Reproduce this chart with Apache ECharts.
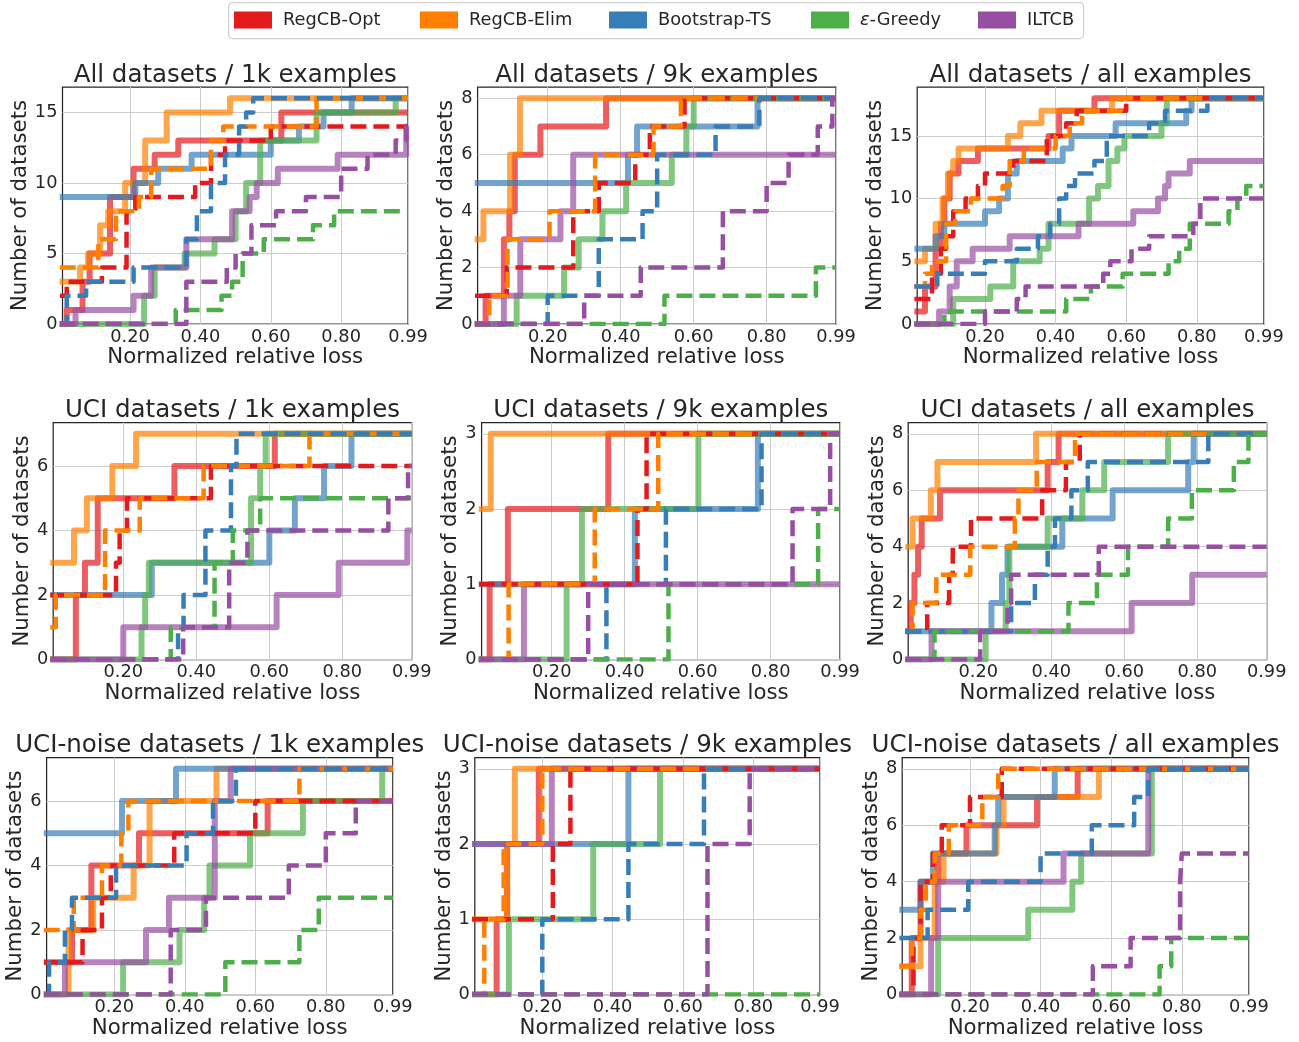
<!DOCTYPE html>
<html><head><meta charset="utf-8">
<script src="https://cdn.jsdelivr.net/npm/echarts@6/dist/echarts.min.js"></script>
<style>html,body{margin:0;padding:0;background:#fff}#c{width:1299px;height:1042px}</style>
</head><body><div id="c"></div>
<script>
const methods = ['RegCB-Opt', 'RegCB-Elim', 'Bootstrap-TS', 'ε-Greedy', 'ILTCB'];
const colors = ['#e41a1c', '#ff7f00', '#377eb8', '#4daf4a', '#984ea3'];
const panelTitles = [
  'All datasets / 1k examples', 'All datasets / 9k examples', 'All datasets / all examples',
  'UCI datasets / 1k examples', 'UCI datasets / 9k examples', 'UCI datasets / all examples',
  'UCI-noise datasets / 1k examples', 'UCI-noise datasets / 9k examples', 'UCI-noise datasets / all examples'
];
const xTickValues = [0.2, 0.4, 0.6, 0.8, 0.99];
const yTickValues = [[0,5,10,15],[0,2,4,6,8],[0,5,10,15],[0,2,4,6],[0,1,2,3],[0,2,4,6,8],[0,2,4,6],[0,1,2,3],[0,2,4,6,8]];
const yMaxValues = [16.8, 8.4, 18.9, 7.35, 3.15, 8.4, 7.35, 3.15, 8.4];
const xAxisTitle = 'Normalized relative loss';
const yAxisTitle = 'Number of datasets';

// Each array: [x where the count changes, new count]; solid = first, Dash = dashed variant
// All datasets / 1k
const all1kOpt = [[0,0],[0.02,1],[0.065,3],[0.085,5],[0.143,9],[0.21,11],[0.27,12],[0.337,13],[0.63,15]];
const all1kOptDash = [[0,2],[0.02,3],[0.12,4],[0.19,8],[0.215,9],[0.385,10],[0.43,12],[0.47,13],[0.6,14]];
const all1kElim = [[0,3],[0.058,4],[0.081,5],[0.115,7],[0.138,8],[0.186,10],[0.243,13],[0.304,15],[0.484,16]];
const all1kElimDash = [[0,4],[0.11,6],[0.16,8],[0.225,9],[0.26,11],[0.43,13],[0.465,14],[0.73,16]];
const all1kBoot = [[0,9],[0.215,10],[0.28,11],[0.375,12],[0.6,13],[0.68,14],[0.75,15],[0.83,16]];
const all1kBootDash = [[0,0],[0.02,2],[0.075,3],[0.21,4],[0.36,6],[0.39,8],[0.43,10],[0.47,12],[0.51,14],[0.53,15],[0.55,16]];
const all1kGreedy = [[0,0],[0.24,2],[0.27,4],[0.355,5],[0.44,6],[0.5,8],[0.53,10],[0.57,13],[0.73,15],[0.955,16]];
const all1kGreedyDash = [[0,0],[0.33,1],[0.46,2],[0.49,3],[0.52,5],[0.58,6],[0.72,7],[0.78,8]];
const all1kIltcb = [[0,0],[0.045,1],[0.21,2],[0.26,4],[0.36,6],[0.49,8],[0.54,9],[0.56,10],[0.62,11],[0.79,12],[0.985,14]];
const all1kIltcbDash = [[0,0],[0.36,3],[0.475,4],[0.5,5],[0.545,7],[0.615,8],[0.7,9],[0.8,11],[0.875,12],[0.955,13],[0.985,14]];
// All datasets / 9k
const all9kOpt = [[0,0],[0.03,1],[0.08,3],[0.095,4],[0.11,6],[0.18,7],[0.36,8]];
const all9kOptDash = [[0,1],[0.088,2],[0.27,4],[0.34,5],[0.44,6],[0.48,7],[0.575,8]];
const all9kElim = [[0,3],[0.024,4],[0.097,6],[0.124,8]];
const all9kElimDash = [[0,0],[0.04,1],[0.09,3],[0.205,4],[0.33,6],[0.49,7],[0.565,8]];
const all9kBoot = [[0,5],[0.42,6],[0.445,7],[0.775,8]];
const all9kBootDash = [[0,0],[0.2,1],[0.34,3],[0.46,4],[0.5,6],[0.66,7],[0.78,8]];
const all9kGreedy = [[0,0],[0.115,1],[0.245,2],[0.285,3],[0.35,4],[0.415,5],[0.54,6],[0.58,7],[0.6,8]];
const all9kGreedyDash = [[0,0],[0.52,1],[0.935,2]];
const all9kIltcb = [[0,0],[0.08,1],[0.125,3],[0.235,4],[0.27,6]];
const all9kIltcbDash = [[0,0],[0.3,1],[0.455,2],[0.68,4],[0.8,5],[0.86,6],[0.94,7],[0.98,8]];
// All datasets / all
const allAllOpt = [[0,1],[0.03,3],[0.06,6],[0.075,8],[0.085,10],[0.1,12],[0.125,13],[0.18,14],[0.38,15],[0.41,17],[0.51,18]];
const allAllOptDash = [[0,2],[0.05,4],[0.075,6],[0.09,7],[0.11,9],[0.145,10],[0.18,11],[0.2,12],[0.28,13],[0.375,15],[0.43,16],[0.46,17],[0.6,18]];
const allAllElim = [[0,5],[0.03,6],[0.06,8],[0.08,10],[0.095,12],[0.11,13],[0.125,14],[0.265,15],[0.3,16],[0.36,17],[0.56,18]];
const allAllElimDash = [[0,3],[0.03,4],[0.05,5],[0.09,8],[0.115,9],[0.16,10],[0.25,11],[0.27,13],[0.31,14],[0.4,15],[0.44,16],[0.475,17],[0.585,18]];
const allAllBoot = [[0,6],[0.06,7],[0.085,8],[0.2,9],[0.24,10],[0.265,12],[0.29,13],[0.42,14],[0.445,15],[0.57,16],[0.77,17],[0.785,18]];
const allAllBootDash = [[0,3],[0.065,4],[0.2,5],[0.29,6],[0.35,7],[0.385,8],[0.41,10],[0.43,11],[0.455,12],[0.51,13],[0.545,15],[0.665,16],[0.71,17],[0.83,18]];
const allAllGreedy = [[0,0],[0.11,2],[0.215,3],[0.28,5],[0.355,6],[0.38,8],[0.495,10],[0.52,11],[0.55,13],[0.575,14],[0.595,15],[0.7,16],[0.715,18]];
const allAllGreedyDash = [[0,0],[0.085,1],[0.43,2],[0.5,3],[0.59,4],[0.72,5],[0.75,6],[0.78,8],[0.89,9],[0.915,10],[0.94,11]];
const allAllIltcb = [[0,0],[0.07,1],[0.1,3],[0.12,5],[0.165,6],[0.27,7],[0.465,8],[0.62,9],[0.69,10],[0.71,11],[0.72,12],[0.78,13]];
const allAllIltcbDash = [[0,0],[0.2,1],[0.29,2],[0.315,3],[0.535,4],[0.555,5],[0.615,6],[0.665,7],[0.79,8],[0.81,10]];
// UCI / 1k
const uci1kOpt = [[0,0],[0.07,2],[0.095,3],[0.13,5],[0.34,6],[0.615,7]];
const uci1kOptDash = [[0,2],[0.18,3],[0.19,4],[0.21,5],[0.44,6]];
const uci1kElim = [[0,3],[0.065,4],[0.1,5],[0.17,6],[0.235,7]];
const uci1kElimDash = [[0,1],[0.015,2],[0.15,4],[0.245,5],[0.42,6],[0.71,7]];
const uci1kBoot = [[0,2],[0.278,3],[0.6,4],[0.67,5],[0.75,6],[0.825,7]];
const uci1kBootDash = [[0,0],[0.35,1],[0.365,2],[0.425,4],[0.495,6],[0.51,7]];
const uci1kGreedy = [[0,0],[0.25,1],[0.26,2],[0.27,3],[0.55,5],[0.575,6],[0.59,7]];
const uci1kGreedyDash = [[0,0],[0.33,1],[0.45,3],[0.5,4],[0.575,5]];
const uci1kIltcb = [[0,0],[0.2,1],[0.62,2],[0.79,3],[0.978,4]];
const uci1kIltcbDash = [[0,0],[0.364,1],[0.49,3],[0.54,4],[0.926,5],[0.98,6]];
// UCI / 9k
const uci9kOpt = [[0,0],[0.03,1],[0.08,2],[0.355,3]];
const uci9kOptDash = [[0,1],[0.435,2],[0.46,3]];
const uci9kElim = [[0,2],[0.033,3]];
const uci9kElimDash = [[0,0],[0.082,1],[0.318,2],[0.492,3]];
const uci9kBoot = [[0,1],[0.428,2],[0.765,3]];
const uci9kBootDash = [[0,0],[0.35,1],[0.513,2],[0.775,3]];
const uci9kGreedy = [[0,0],[0.241,1],[0.283,2],[0.602,3]];
const uci9kGreedyDash = [[0,0],[0.52,1],[0.93,2]];
const uci9kIltcb = [[0,0],[0.124,1]];
const uci9kIltcbDash = [[0,0],[0.3,1],[0.86,2],[0.963,3]];
// UCI / all
const uciAllOpt = [[0,1],[0.015,2],[0.025,3],[0.035,4],[0.045,5],[0.095,6],[0.39,7],[0.42,8]];
const uciAllOptDash = [[0,1],[0.06,2],[0.12,3],[0.13,4],[0.18,5],[0.375,6],[0.44,7],[0.478,8]];
const uciAllElim = [[0,4],[0.02,5],[0.07,6],[0.088,7],[0.358,8]];
const uciAllElimDash = [[0,1],[0.02,2],[0.085,3],[0.178,4],[0.3,5],[0.31,6],[0.36,7],[0.465,8]];
const uciAllBoot = [[0,1],[0.236,2],[0.265,3],[0.28,4],[0.43,5],[0.568,6],[0.775,7],[0.79,8]];
const uciAllBootDash = [[0,1],[0.29,2],[0.355,3],[0.39,4],[0.41,5],[0.455,6],[0.5,7],[0.83,8]];
const uciAllGreedy = [[0,0],[0.22,1],[0.275,2],[0.285,4],[0.39,5],[0.485,6],[0.545,7],[0.72,8]];
const uciAllGreedyDash = [[0,0],[0.08,1],[0.447,2],[0.525,3],[0.61,4],[0.72,5],[0.785,6],[0.9,7],[0.94,8]];
const uciAllIltcb = [[0,0],[0.072,1],[0.62,2],[0.786,3]];
const uciAllIltcbDash = [[0,0],[0.205,1],[0.28,2],[0.29,3],[0.53,4]];
// UCI-noise / 1k
const noise1kOpt = [[0,1],[0.08,2],[0.135,4],[0.27,5],[0.635,6]];
const noise1kOptDash = [[0,1],[0.11,2],[0.165,3],[0.19,4],[0.37,5],[0.6,6]];
const noise1kElim = [[0,0],[0.07,2],[0.14,3],[0.255,4],[0.3,6],[0.49,7]];
const noise1kElimDash = [[0,2],[0.085,3],[0.165,4],[0.22,5],[0.24,6],[0.725,7]];
const noise1kBoot = [[0,5],[0.222,6],[0.375,7]];
const noise1kBootDash = [[0,0],[0.015,1],[0.06,2],[0.08,3],[0.205,4],[0.405,5],[0.48,6],[0.545,7]];
const noise1kGreedy = [[0,0],[0.225,1],[0.385,2],[0.455,3],[0.47,4],[0.585,5],[0.735,6],[0.96,7]];
const noise1kGreedyDash = [[0,0],[0.515,1],[0.725,2],[0.78,3]];
const noise1kIltcb = [[0,0],[0.06,1],[0.29,2],[0.355,3],[0.485,6],[0.53,7]];
const noise1kIltcbDash = [[0,0],[0.36,2],[0.46,3],[0.695,4],[0.8,5],[0.885,6]];
// UCI-noise / 9k
const noise9kOpt = [[0,0],[0.07,1],[0.1,2],[0.19,3]];
const noise9kOptDash = [[0,1],[0.23,2],[0.28,3]];
const noise9kElim = [[0,1],[0.1,2],[0.122,3]];
const noise9kElimDash = [[0,0],[0.035,1],[0.09,2],[0.2,3]];
const noise9kBoot = [[0,2],[0.445,3]];
const noise9kBootDash = [[0,0],[0.2,1],[0.445,2],[0.66,3]];
const noise9kGreedy = [[0,0],[0.105,1],[0.345,2],[0.535,3]];
const noise9kGreedyDash = [[0,0]];
const noise9kIltcb = [[0,2],[0.227,3]];
const noise9kIltcbDash = [[0,0],[0.67,2],[0.79,3]];
// UCI-noise / all
const noiseAllOpt = [[0,0],[0.035,2],[0.06,4],[0.11,5],[0.19,6],[0.39,7],[0.505,8]];
const noiseAllOptDash = [[0,0],[0.04,2],[0.06,4],[0.095,5],[0.12,6],[0.2,7],[0.29,8]];
const noiseAllElim = [[0,1],[0.06,2],[0.1,4],[0.125,5],[0.275,6],[0.295,7],[0.565,8]];
const noiseAllElimDash = [[0,1],[0.035,2],[0.06,3],[0.075,4],[0.1,5],[0.14,6],[0.235,7],[0.28,8]];
const noiseAllBoot = [[0,3],[0.06,4],[0.095,5],[0.27,6],[0.28,7],[0.44,8]];
const noiseAllBootDash = [[0,2],[0.08,3],[0.195,4],[0.4,5],[0.545,6],[0.665,7],[0.705,8]];
const noiseAllGreedy = [[0,0],[0.11,2],[0.365,3],[0.49,4],[0.515,5],[0.715,8]];
const noiseAllGreedyDash = [[0,0],[0.737,1],[0.77,2]];
const noiseAllIltcb = [[0,0],[0.09,2],[0.11,4],[0.465,5],[0.705,8]];
const noiseAllIltcbDash = [[0,0],[0.548,1],[0.655,2],[0.795,4],[0.8,5]];

const panelSolid = [
  [all1kOpt, all1kElim, all1kBoot, all1kGreedy, all1kIltcb],
  [all9kOpt, all9kElim, all9kBoot, all9kGreedy, all9kIltcb],
  [allAllOpt, allAllElim, allAllBoot, allAllGreedy, allAllIltcb],
  [uci1kOpt, uci1kElim, uci1kBoot, uci1kGreedy, uci1kIltcb],
  [uci9kOpt, uci9kElim, uci9kBoot, uci9kGreedy, uci9kIltcb],
  [uciAllOpt, uciAllElim, uciAllBoot, uciAllGreedy, uciAllIltcb],
  [noise1kOpt, noise1kElim, noise1kBoot, noise1kGreedy, noise1kIltcb],
  [noise9kOpt, noise9kElim, noise9kBoot, noise9kGreedy, noise9kIltcb],
  [noiseAllOpt, noiseAllElim, noiseAllBoot, noiseAllGreedy, noiseAllIltcb]
];
const panelDashed = [
  [all1kOptDash, all1kElimDash, all1kBootDash, all1kGreedyDash, all1kIltcbDash],
  [all9kOptDash, all9kElimDash, all9kBootDash, all9kGreedyDash, all9kIltcbDash],
  [allAllOptDash, allAllElimDash, allAllBootDash, allAllGreedyDash, allAllIltcbDash],
  [uci1kOptDash, uci1kElimDash, uci1kBootDash, uci1kGreedyDash, uci1kIltcbDash],
  [uci9kOptDash, uci9kElimDash, uci9kBootDash, uci9kGreedyDash, uci9kIltcbDash],
  [uciAllOptDash, uciAllElimDash, uciAllBootDash, uciAllGreedyDash, uciAllIltcbDash],
  [noise1kOptDash, noise1kElimDash, noise1kBootDash, noise1kGreedyDash, noise1kIltcbDash],
  [noise9kOptDash, noise9kElimDash, noise9kBootDash, noise9kGreedyDash, noise9kIltcbDash],
  [noiseAllOptDash, noiseAllElimDash, noiseAllBootDash, noiseAllGreedyDash, noiseAllIltcbDash]
];

// ---- layout ----
const X_MIN = 0.008, X_MAX = 0.99;
const FONT = '"DejaVu Sans", sans-serif';
const TXT = '#262626';
const gridBoxes = [
  [62.5, 87, 345.5, 237], [477.6, 87, 358.4, 237], [917.2, 87, 346.7, 237],
  [53.2, 422.5, 358.5, 237], [481.6, 422.5, 358.4, 237], [908.2, 422.5, 358.5, 237],
  [46.6, 757.5, 346.2, 237], [474.8, 757.5, 345.2, 237], [902.2, 757.5, 346.7, 237]
];
const yNameGaps = [30, 20, 30, 20, 20, 20, 20, 20, 20];
const legendLefts = [234, 420, 609, 811, 978];

const grids = [], xAxes = [], yAxes = [], titles = [], series = [];
gridBoxes.forEach((b, i) => {
  grids.push({left: b[0], top: b[1], width: b[2], height: b[3], show: true,
    borderColor: '#262626', borderWidth: 1.25, backgroundColor: 'transparent',
    containLabel: false, outerBoundsMode: 'none'});
  titles.push({text: panelTitles[i], left: b[0] + b[2] / 2, top: b[1] - 24, textAlign: 'center',
    textStyle: {fontFamily: FONT, fontSize: 24.5, fontWeight: 'normal', color: TXT}, padding: 0});
  xAxes.push({type: 'value', gridIndex: i, min: X_MIN, max: X_MAX,
    axisLine: {show: false}, axisTick: {show: false, customValues: xTickValues},
    axisLabel: {customValues: xTickValues, formatter: v => v.toFixed(2), fontFamily: FONT, fontSize: 17.8, color: TXT, margin: 4},
    splitLine: {show: true, lineStyle: {color: '#cccccc', width: 1}},
    name: xAxisTitle, nameLocation: 'middle', nameGap: 23,
    nameTextStyle: {fontFamily: FONT, fontSize: 21.3, color: TXT}});
  yAxes.push({type: 'value', gridIndex: i, min: 0, max: yMaxValues[i],
    axisLine: {show: false}, axisTick: {show: false, customValues: yTickValues[i]},
    axisLabel: {customValues: yTickValues[i], fontFamily: FONT, fontSize: 17.8, color: TXT, margin: 5},
    splitLine: {show: true, lineStyle: {color: '#cccccc', width: 1}},
    name: yAxisTitle, nameLocation: 'middle', nameGap: yNameGaps[i],
    nameTextStyle: {fontFamily: FONT, fontSize: 21.3, color: TXT}});
});

function extend(arr) { return arr.concat([[X_MAX, arr[arr.length - 1][1]]]); }

panelSolid.forEach((list, i) => {
  list.forEach((arr, m) => {
    series.push({type: 'line', name: methods[m], xAxisIndex: i, yAxisIndex: i, step: 'end',
      data: extend(arr), symbol: 'none', z: 2, silent: true,
      itemStyle: {color: colors[m]},
      lineStyle: {color: colors[m], width: 6, opacity: 0.7, join: 'round', cap: 'butt'}});
  });
});
panelDashed.forEach((list, i) => {
  list.forEach((arr, m) => {
    series.push({type: 'line', name: methods[m], xAxisIndex: i, yAxisIndex: i, step: 'end',
      data: extend(arr), symbol: 'none', z: 3, silent: true,
      itemStyle: {color: colors[m]},
      lineStyle: {color: colors[m], width: 4.5, type: [16, 7], opacity: 1, join: 'round', cap: 'butt'}});
  });
});

const legends = methods.map((name, m) => ({
  left: legendLefts[m], top: 11, padding: 0, itemWidth: 38, itemHeight: 17, selectedMode: false,
  data: [{name: name, icon: 'rect', itemStyle: {color: colors[m], opacity: 1, borderWidth: 0}}],
  formatter: n => n === 'ε-Greedy' ? '{i|ε}-Greedy' : n,
  textStyle: {fontFamily: FONT, fontSize: 17.8, color: TXT, padding: [0, 0, 0, 6],
    rich: {i: {fontFamily: FONT, fontSize: 17.8, color: TXT, fontStyle: 'italic'}}}
}));

const chart = echarts.init(document.getElementById('c'), null, {renderer: 'canvas'});
chart.setOption({
  backgroundColor: '#ffffff',
  animation: false,
  title: titles,
  legend: legends,
  grid: grids,
  xAxis: xAxes,
  yAxis: yAxes,
  series: series,
  graphic: [{type: 'rect', left: 228, top: 2, z: -1,
    shape: {width: 855, height: 36, r: 4},
    style: {fill: '#ffffff', stroke: '#d0d0d0', lineWidth: 1.2}}]
});
</script></body></html>
